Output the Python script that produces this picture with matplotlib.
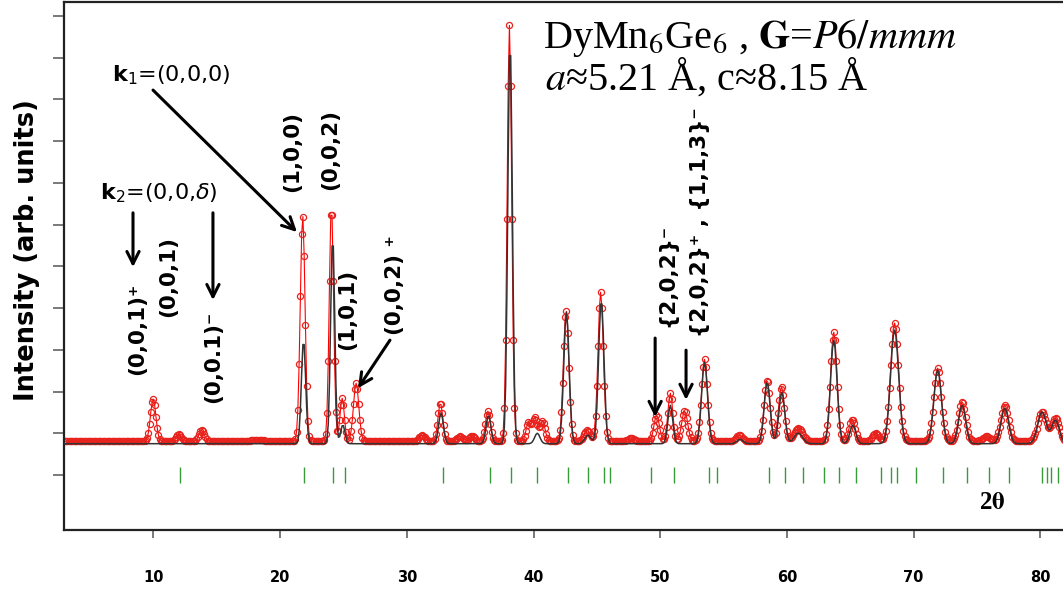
import numpy as np
import matplotlib
matplotlib.use("Agg")
import matplotlib.pyplot as plt

# observed profile: peak centre (2theta), height above background, FWHM
obs_pos = [9.98, 12.0, 13.8, 18.2, 21.78, 24.05, 24.9, 26.0, 31.2, 32.65, 34.2, 35.15,
           36.4, 38.1, 39.6, 40.1, 40.7, 42.57, 44.23, 45.3, 47.7, 49.72, 50.8, 51.93,
           53.5, 56.25, 58.44, 59.57, 60.9, 63.7, 65.15, 67.0, 68.5, 71.9, 73.83, 75.75,
           77.2, 80.14, 81.2]
obs_height = [1.01, 0.17, 0.26, 0.04, 5.41, 5.65, 1.03, 1.39, 0.14, 0.91, 0.12, 0.14,
              0.72, 9.96, 0.43, 0.55, 0.48, 3.14, 0.26, 3.57, 0.08, 0.62, 1.15, 0.72,
              1.96, 0.14, 1.46, 1.30, 0.31, 2.61, 0.53, 0.19, 2.83, 1.75, 0.94, 0.12,
              0.86, 0.70, 0.55]
obs_fwhm = [0.50, 0.45, 0.50, 1.0, 0.45, 0.40, 0.40, 0.50, 0.5, 0.45, 0.5, 0.5,
            0.45, 0.42, 0.45, 0.45, 0.5, 0.5, 0.6, 0.5, 0.6, 0.5, 0.45, 0.55,
            0.55, 0.6, 0.55, 0.55, 0.8, 0.6, 0.55, 0.6, 0.75, 0.7, 0.65, 0.7,
            0.7, 0.8, 0.7]
obs_background = 0.81

# calculated (nuclear only) profile
calc_pos = [21.85, 24.15, 24.95, 32.7, 36.45, 38.15, 40.3, 42.6, 44.3, 45.35, 50.8,
            53.5, 56.3, 58.44, 59.6, 60.9, 63.7, 65.2, 68.5, 71.9, 73.83, 77.2, 80.14, 81.2]
calc_height = [2.48, 4.97, 0.45, 0.73, 0.68, 9.67, 0.25, 3.15, 0.2, 3.44, 0.92,
               1.95, 0.1, 1.47, 1.23, 0.25, 2.48, 0.44, 2.72, 1.76, 0.92, 0.85, 0.76, 0.56]
calc_fwhm = [0.40, 0.38, 0.40, 0.45, 0.45, 0.42, 0.5, 0.5, 0.6, 0.5, 0.45,
             0.55, 0.6, 0.55, 0.55, 0.8, 0.6, 0.55, 0.75, 0.7, 0.65, 0.7, 0.8, 0.7]
calc_background = 0.75

# Bragg reflection positions
bragg_pos = [12.13, 21.86, 24.18, 25.09, 32.89, 36.55, 38.22, 40.26, 42.73, 44.30,
             45.54, 46.07, 49.30, 51.08, 53.89, 54.52, 58.62, 59.85, 61.30, 62.91,
             64.10, 65.49, 67.44, 68.24, 68.67, 70.18, 72.33, 74.21, 75.98, 77.55,
             80.13, 80.50, 80.87, 81.42]

two_theta = np.arange(3.0, 82.0, 0.1)


def profile(x, pos, height, fwhm, bkg):
    y = np.full_like(x, bkg)
    for p, h, w in zip(pos, height, fwhm):
        s = w / 2.3548
        y += h * np.exp(-0.5 * ((x - p) / s) ** 2)
    return y


y_obs = profile(two_theta, obs_pos, obs_height, obs_fwhm, obs_background)
y_calc = profile(two_theta, calc_pos, calc_height, calc_fwhm, calc_background)

fig = plt.figure(figsize=(10.63, 5.90), dpi=100)
ax = fig.add_axes([64 / 1063, 60 / 590, 1000 / 1063, 528 / 590])

ax.plot(two_theta, y_obs, color="red", lw=0.8, marker="o", ms=4.4,
        mfc="none", mec="#e8221c", mew=0.9, zorder=2)
ax.plot(two_theta, y_calc, color="#333333", lw=1.1, zorder=3)
ax.plot(bragg_pos, np.zeros(len(bragg_pos)), ls="none", marker="|", ms=12,
        mew=1.0, color="#3a9a3a", zorder=2)

ax.set_xlim(2.944, 81.87)
ax.set_ylim(-1.317, 11.33)

for side in ["top", "left", "bottom"]:
    ax.spines[side].set_linewidth(1.6)
    ax.spines[side].set_color("#222222")
ax.spines["right"].set_visible(False)

ax.set_yticks(range(0, 12))
ax.tick_params(axis="y", length=8, width=1.1, color="#555555", labelleft=False)
ax.set_xticks(range(10, 90, 10))
ax.tick_params(axis="x", length=6, width=1.1, color="#555555", pad=23)
for lab in ax.get_xticklabels():
    lab.set_fontweight("bold")
    lab.set_fontsize(10.5)
    lab.set_family("DejaVu Sans")

fig.text(27 / 1063, 1 - 250 / 590, "Intensity (arb. units)", rotation=90,
         ha="center", va="center", fontsize=18.5, fontweight="bold")

# title block
plt.rcParams["mathtext.fontset"] = "stix"
ax.text(40.75, 10.23, r"DyMn$_6$Ge$_6$ , $\mathbf{G}$=$\mathit{P6/mmm}$",
        family="Liberation Serif", fontsize=29, ha="left", va="baseline")
ax.text(40.91, 9.22, r"$\mathit{a}$≈5.21 Å, c≈8.15 Å",
        family="Liberation Serif", fontsize=29, ha="left", va="baseline")
ax.text(76.19, -0.67, r"2$\mathbf{\theta}$", family="Liberation Serif",
        fontsize=18, fontweight="bold", ha="center", va="center")

plt.rcParams["mathtext.fontset"] = "dejavusans"
arrow = dict(arrowstyle="->", lw=2.2, color="black", mutation_scale=22,
             shrinkA=0, shrinkB=0)

# propagation vectors
ax.text(6.73, 9.58, r"$\mathbf{k}_{1}$=(0,0,0)", fontsize=16, ha="left", va="center")
ax.annotate("", xy=(21.33, 5.82), xytext=(9.97, 9.22), arrowprops=arrow)
ax.text(5.79, 6.75, r"$\mathbf{k}_{2}$=(0,0,$\delta$)", fontsize=16, ha="left", va="center")
ax.annotate("", xy=(8.39, 4.98), xytext=(8.39, 6.28), arrowprops=arrow)
ax.annotate("", xy=(14.70, 4.19), xytext=(14.70, 6.28), arrowprops=arrow)

# reflection labels
refl = [
    (8.71, 2.40, "(0,0,1)⁺"),
    (11.15, 3.78, "(0,0,1)"),
    (14.70, 1.72, "(0,0.1)⁻"),
    (20.94, 6.78, "(1,0,0)"),
    (23.94, 6.83, "(0,0,2)"),
    (25.28, 2.99, "(1,0,1)"),
    (29.07, 3.35, "(0,0,2) ⁺"),
    (50.53, 3.54, "{2,0,2}⁻"),
    (53.14, 3.31, "{2,0,2}⁺ , {1,1,3}⁻"),
]
for x, y, s in refl:
    ax.text(x, y, s, rotation=90, fontsize=15.5, fontweight="bold",
            ha="center", va="bottom")

ax.annotate("", xy=(26.15, 2.08), xytext=(28.67, 3.23), arrowprops=arrow)
ax.annotate("", xy=(49.6, 1.39), xytext=(49.6, 3.28), arrowprops=arrow)
ax.annotate("", xy=(52.04, 1.80), xytext=(52.04, 2.99), arrowprops=arrow)

fig.savefig("out.png", dpi=100)
